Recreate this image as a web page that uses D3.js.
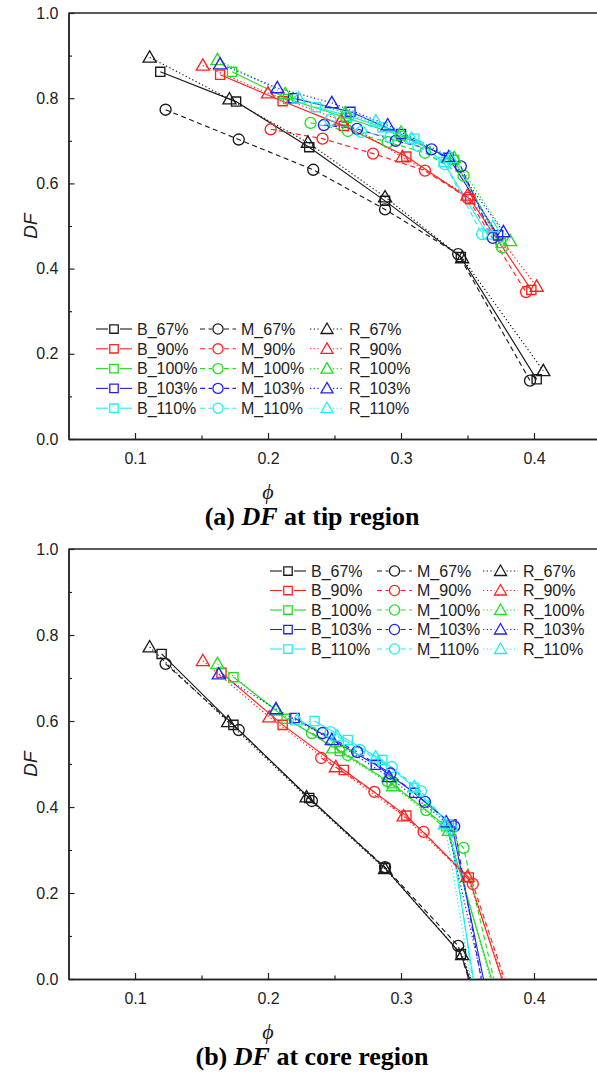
<!DOCTYPE html>
<html><head><meta charset="utf-8">
<script src="https://cdn.jsdelivr.net/npm/d3@7"></script>
<style>body{margin:0;background:#fff}svg{display:block}</style>
</head><body>
<svg id="c" width="597" height="1078"></svg>
<script>
// ---------- data ----------
const groups = ["67%", "90%", "100%", "103%", "110%"];
const kinds = ["B", "M", "R"];
const xTicks = [0.1, 0.2, 0.3, 0.4];
const yTicks = [0.0, 0.2, 0.4, 0.6, 0.8, 1.0];

// (a) tip region — one row per group (67,90,100,103,110)
const tipB_phi = [
  [0.119,0.176,0.231,0.288,0.345,0.402],
  [0.164,0.211,0.257,0.304,0.352,0.398],
  [0.173,0.215,0.259,0.300,0.340,0.375],
  [0.219,0.262,0.300,0.336,0.373],
  [0.236,0.261,0.286,0.310,0.332,0.365]];
const tipB_df = [
  [0.862,0.792,0.685,0.559,0.427,0.140],
  [0.855,0.793,0.735,0.663,0.563,0.350],
  [0.862,0.798,0.754,0.712,0.655,0.460],
  [0.800,0.768,0.716,0.660,0.478],
  [0.779,0.758,0.732,0.705,0.650,0.480]];
const tipM_phi = [
  [0.123,0.178,0.234,0.288,0.343,0.397],
  [0.202,0.241,0.279,0.318,0.350,0.394],
  [0.232,0.260,0.290,0.318,0.347,0.376],
  [0.242,0.267,0.296,0.323,0.345,0.369],
  [0.247,0.270,0.292,0.313,0.333,0.361]];
const tipM_df = [
  [0.773,0.703,0.632,0.539,0.434,0.137],
  [0.727,0.705,0.670,0.630,0.566,0.345],
  [0.742,0.723,0.697,0.672,0.618,0.450],
  [0.737,0.728,0.700,0.680,0.640,0.472],
  [0.749,0.721,0.709,0.688,0.645,0.481]];
const tipR_phi = [
  [0.111,0.171,0.230,0.288,0.346,0.407],
  [0.151,0.200,0.255,0.301,0.350,0.402],
  [0.162,0.213,0.258,0.300,0.340,0.382],
  [0.164,0.207,0.248,0.290,0.336,0.377],
  [0.223,0.281,0.308,0.337,0.369]];
const tipR_df = [
  [0.896,0.798,0.696,0.568,0.425,0.160],
  [0.877,0.812,0.748,0.662,0.572,0.358],
  [0.890,0.810,0.765,0.720,0.660,0.465],
  [0.880,0.824,0.789,0.737,0.662,0.486],
  [0.800,0.746,0.705,0.660,0.498]];

// (b) core region
const coreB_phi = [
  [0.120,0.174,0.231,0.288,0.345,0.355],
  [0.165,0.211,0.257,0.304,0.351,0.379],
  [0.174,0.214,0.254,0.293,0.334,0.371],
  [0.220,0.281,0.310,0.338,0.364],
  [0.235,0.260,0.286,0.310,0.336,0.356]];
const coreB_df = [
  [0.756,0.591,0.421,0.258,0.058,-0.03],
  [0.712,0.591,0.486,0.380,0.236,-0.03],
  [0.702,0.605,0.530,0.455,0.355,-0.03],
  [0.607,0.498,0.433,0.360,-0.03],
  [0.600,0.556,0.509,0.445,0.360,-0.03]];
const coreM_phi = [
  [0.123,0.178,0.233,0.288,0.343,0.354],
  [0.240,0.280,0.317,0.354,0.381],
  [0.233,0.260,0.290,0.319,0.347,0.372],
  [0.241,0.267,0.292,0.318,0.340,0.362],
  [0.247,0.269,0.293,0.315,0.338,0.355]];
const coreM_df = [
  [0.733,0.579,0.414,0.260,0.077,-0.03],
  [0.514,0.435,0.342,0.221,-0.03],
  [0.572,0.521,0.460,0.393,0.305,-0.03],
  [0.572,0.528,0.478,0.412,0.355,-0.03],
  [0.574,0.533,0.493,0.437,0.350,-0.03]];
const coreR_phi = [
  [0.111,0.170,0.229,0.288,0.346,0.356],
  [0.151,0.201,0.251,0.302,0.350,0.380],
  [0.162,0.206,0.249,0.294,0.336,0.370],
  [0.163,0.206,0.248,0.291,0.334,0.363],
  [0.222,0.252,0.281,0.310,0.333,0.354]];
const coreR_df = [
  [0.772,0.598,0.423,0.256,0.056,-0.03],
  [0.740,0.609,0.493,0.379,0.238,-0.03],
  [0.733,0.625,0.537,0.449,0.345,-0.03],
  [0.709,0.628,0.556,0.470,0.365,-0.03],
  [0.602,0.565,0.516,0.447,0.360,-0.03]];

// ---------- styles ----------
const colors = ["#1a1a1a", "#ff2222", "#22dd22", "#2222ee", "#22eeee"];
const dashes = { B: null, M: "5,3.5", R: "1.3,2.4" };
const symbols = { B: d3.symbolSquare, M: d3.symbolCircle, R: d3.symbolTriangle };
const symSize = { B: 84, M: 95, R: 74 };

const svg = d3.select("#c");
const x = d3.scaleLinear().domain([0.05, 0.45]).range([68.5, 600.5]);

function panel(id, top, bottom, data, legendPos, caption) {
  const y = d3.scaleLinear().domain([0, 1]).range([bottom, top]);
  const g = svg.append("g");
  const clipId = "clip" + id;
  g.append("clipPath").attr("id", clipId).append("rect")
    .attr("x", x(0.05)).attr("y", top).attr("width", x(0.45) - x(0.05)).attr("height", bottom - top);

  g.append("line").attr("x1", x(0.05)).attr("x2", x(0.45)).attr("y1", top).attr("y2", top)
    .attr("stroke", "#222").attr("stroke-width", 1.4);
  g.append("line").attr("x1", x(0.45)).attr("x2", x(0.45)).attr("y1", top).attr("y2", bottom)
    .attr("stroke", "#222").attr("stroke-width", 1.4);

  const fmt = d3.format(".1f");
  g.append("g").attr("transform", `translate(0,${bottom})`)
    .call(d3.axisBottom(x).tickValues(xTicks).tickFormat(fmt).tickSize(-6).tickSizeOuter(0).tickPadding(14));
  g.append("g").attr("transform", `translate(0,${bottom})`)
    .call(d3.axisBottom(x).tickValues([0.15, 0.25, 0.35]).tickFormat("").tickSize(-3.5).tickSizeOuter(0));
  g.append("g").attr("transform", `translate(${x(0.05)},0)`)
    .call(d3.axisLeft(y).tickValues(yTicks).tickFormat(fmt).tickSize(-6).tickSizeOuter(0).tickPadding(10));
  g.append("g").attr("transform", `translate(${x(0.05)},0)`)
    .call(d3.axisLeft(y).tickValues([0.1, 0.3, 0.5, 0.7, 0.9]).tickFormat("").tickSize(-3.5).tickSizeOuter(0));
  g.selectAll(".domain").attr("stroke", "#222").attr("stroke-width", 1.4);
  g.selectAll(".tick line").attr("stroke", "#222").attr("stroke-width", 1.2);
  g.selectAll(".tick text").attr("font-family", "Liberation Sans, Arial, sans-serif")
    .attr("font-size", 16).attr("fill", "#222");

  g.append("text").attr("transform", `translate(37,${(top + bottom) / 2}) rotate(-90)`)
    .attr("text-anchor", "middle").attr("font-family", "Liberation Sans, Arial, sans-serif")
    .attr("font-style", "italic").attr("font-size", 19).attr("fill", "#222").text("DF");
  g.append("text").attr("x", 268).attr("y", bottom + 60).attr("text-anchor", "middle")
    .attr("font-family", "Liberation Serif, Times New Roman, serif").attr("font-style", "italic")
    .attr("font-size", 22).attr("fill", "#222").text("\u03D5");

  const cap = g.append("text").attr("x", 312).attr("y", bottom + 86).attr("text-anchor", "middle")
    .attr("font-family", "Liberation Serif, Times New Roman, serif").attr("font-weight", "bold")
    .attr("font-size", 26).attr("fill", "#000");
  cap.append("tspan").text(caption[0]);
  cap.append("tspan").attr("font-style", "italic").text("DF");
  cap.append("tspan").text(caption[1]);

  const plot = g.append("g").attr("clip-path", `url(#${clipId})`);
  const line = d3.line().x(d => x(d[0])).y(d => y(d[1]));
  kinds.forEach(k => {
    const [phis, dfs] = data[k];
    groups.forEach((gr, i) => {
      const pts = phis[i].map((p, j) => [p, dfs[i][j]]);
      plot.append("path").datum(pts).attr("d", line).attr("fill", "none")
        .attr("stroke", colors[i]).attr("stroke-width", 1.15)
        .attr("stroke-dasharray", dashes[k]);
    });
  });
  kinds.forEach(k => {
    const [phis, dfs] = data[k];
    groups.forEach((gr, i) => {
      const pts = phis[i].map((p, j) => [p, dfs[i][j]]).filter(d => d[1] >= 0);
      plot.selectAll(null).data(pts).enter().append("path")
        .attr("d", d3.symbol().type(symbols[k]).size(symSize[k]))
        .attr("transform", d => `translate(${x(d[0])},${y(d[1]) + (k === "R" ? 1 : 0)})`)
        .attr("fill", "none").attr("stroke", colors[i]).attr("stroke-width", 1.35);
    });
  });

  const colX = legendPos.cols;
  const lg = g.append("g");
  kinds.forEach((k, c) => {
    groups.forEach((gr, i) => {
      const cy = legendPos.y0 + i * legendPos.dy;
      const x0 = colX[c], w = legendPos.w[c];
      const mx = x0 + w / 2;
      lg.append("line").attr("x1", x0).attr("x2", mx - 6).attr("y1", cy).attr("y2", cy)
        .attr("stroke", colors[i]).attr("stroke-width", 1.1).attr("stroke-dasharray", dashes[k]);
      lg.append("line").attr("x1", mx + 6).attr("x2", x0 + w).attr("y1", cy).attr("y2", cy)
        .attr("stroke", colors[i]).attr("stroke-width", 1.1).attr("stroke-dasharray", dashes[k]);
      lg.append("path").attr("d", d3.symbol().type(symbols[k]).size(symSize[k] * 0.85))
        .attr("transform", `translate(${mx},${cy + (k === "R" ? 1 : 0)})`)
        .attr("fill", "none").attr("stroke", colors[i]).attr("stroke-width", 1.3);
      lg.append("text").attr("x", x0 + w + 5).attr("y", cy + 5.8)
        .attr("font-family", "Liberation Sans, Arial, sans-serif").attr("font-size", 16)
        .attr("fill", "#222").text(k + "_" + gr);
    });
  });
}

panel("a", 13, 439,
  { B: [tipB_phi, tipB_df], M: [tipM_phi, tipM_df], R: [tipR_phi, tipR_df] },
  { cols: [96, 200, 310], w: [36, 36, 34], y0: 329, dy: 19.8 },
  ["(a) ", " at tip region"]);
panel("b", 549, 979,
  { B: [coreB_phi, coreB_df], M: [coreM_phi, coreM_df], R: [coreR_phi, coreR_df] },
  { cols: [270, 377, 483], w: [36, 35, 35], y0: 571, dy: 19.5 },
  ["(b) ", " at core region"]);
</script>
</body></html>
